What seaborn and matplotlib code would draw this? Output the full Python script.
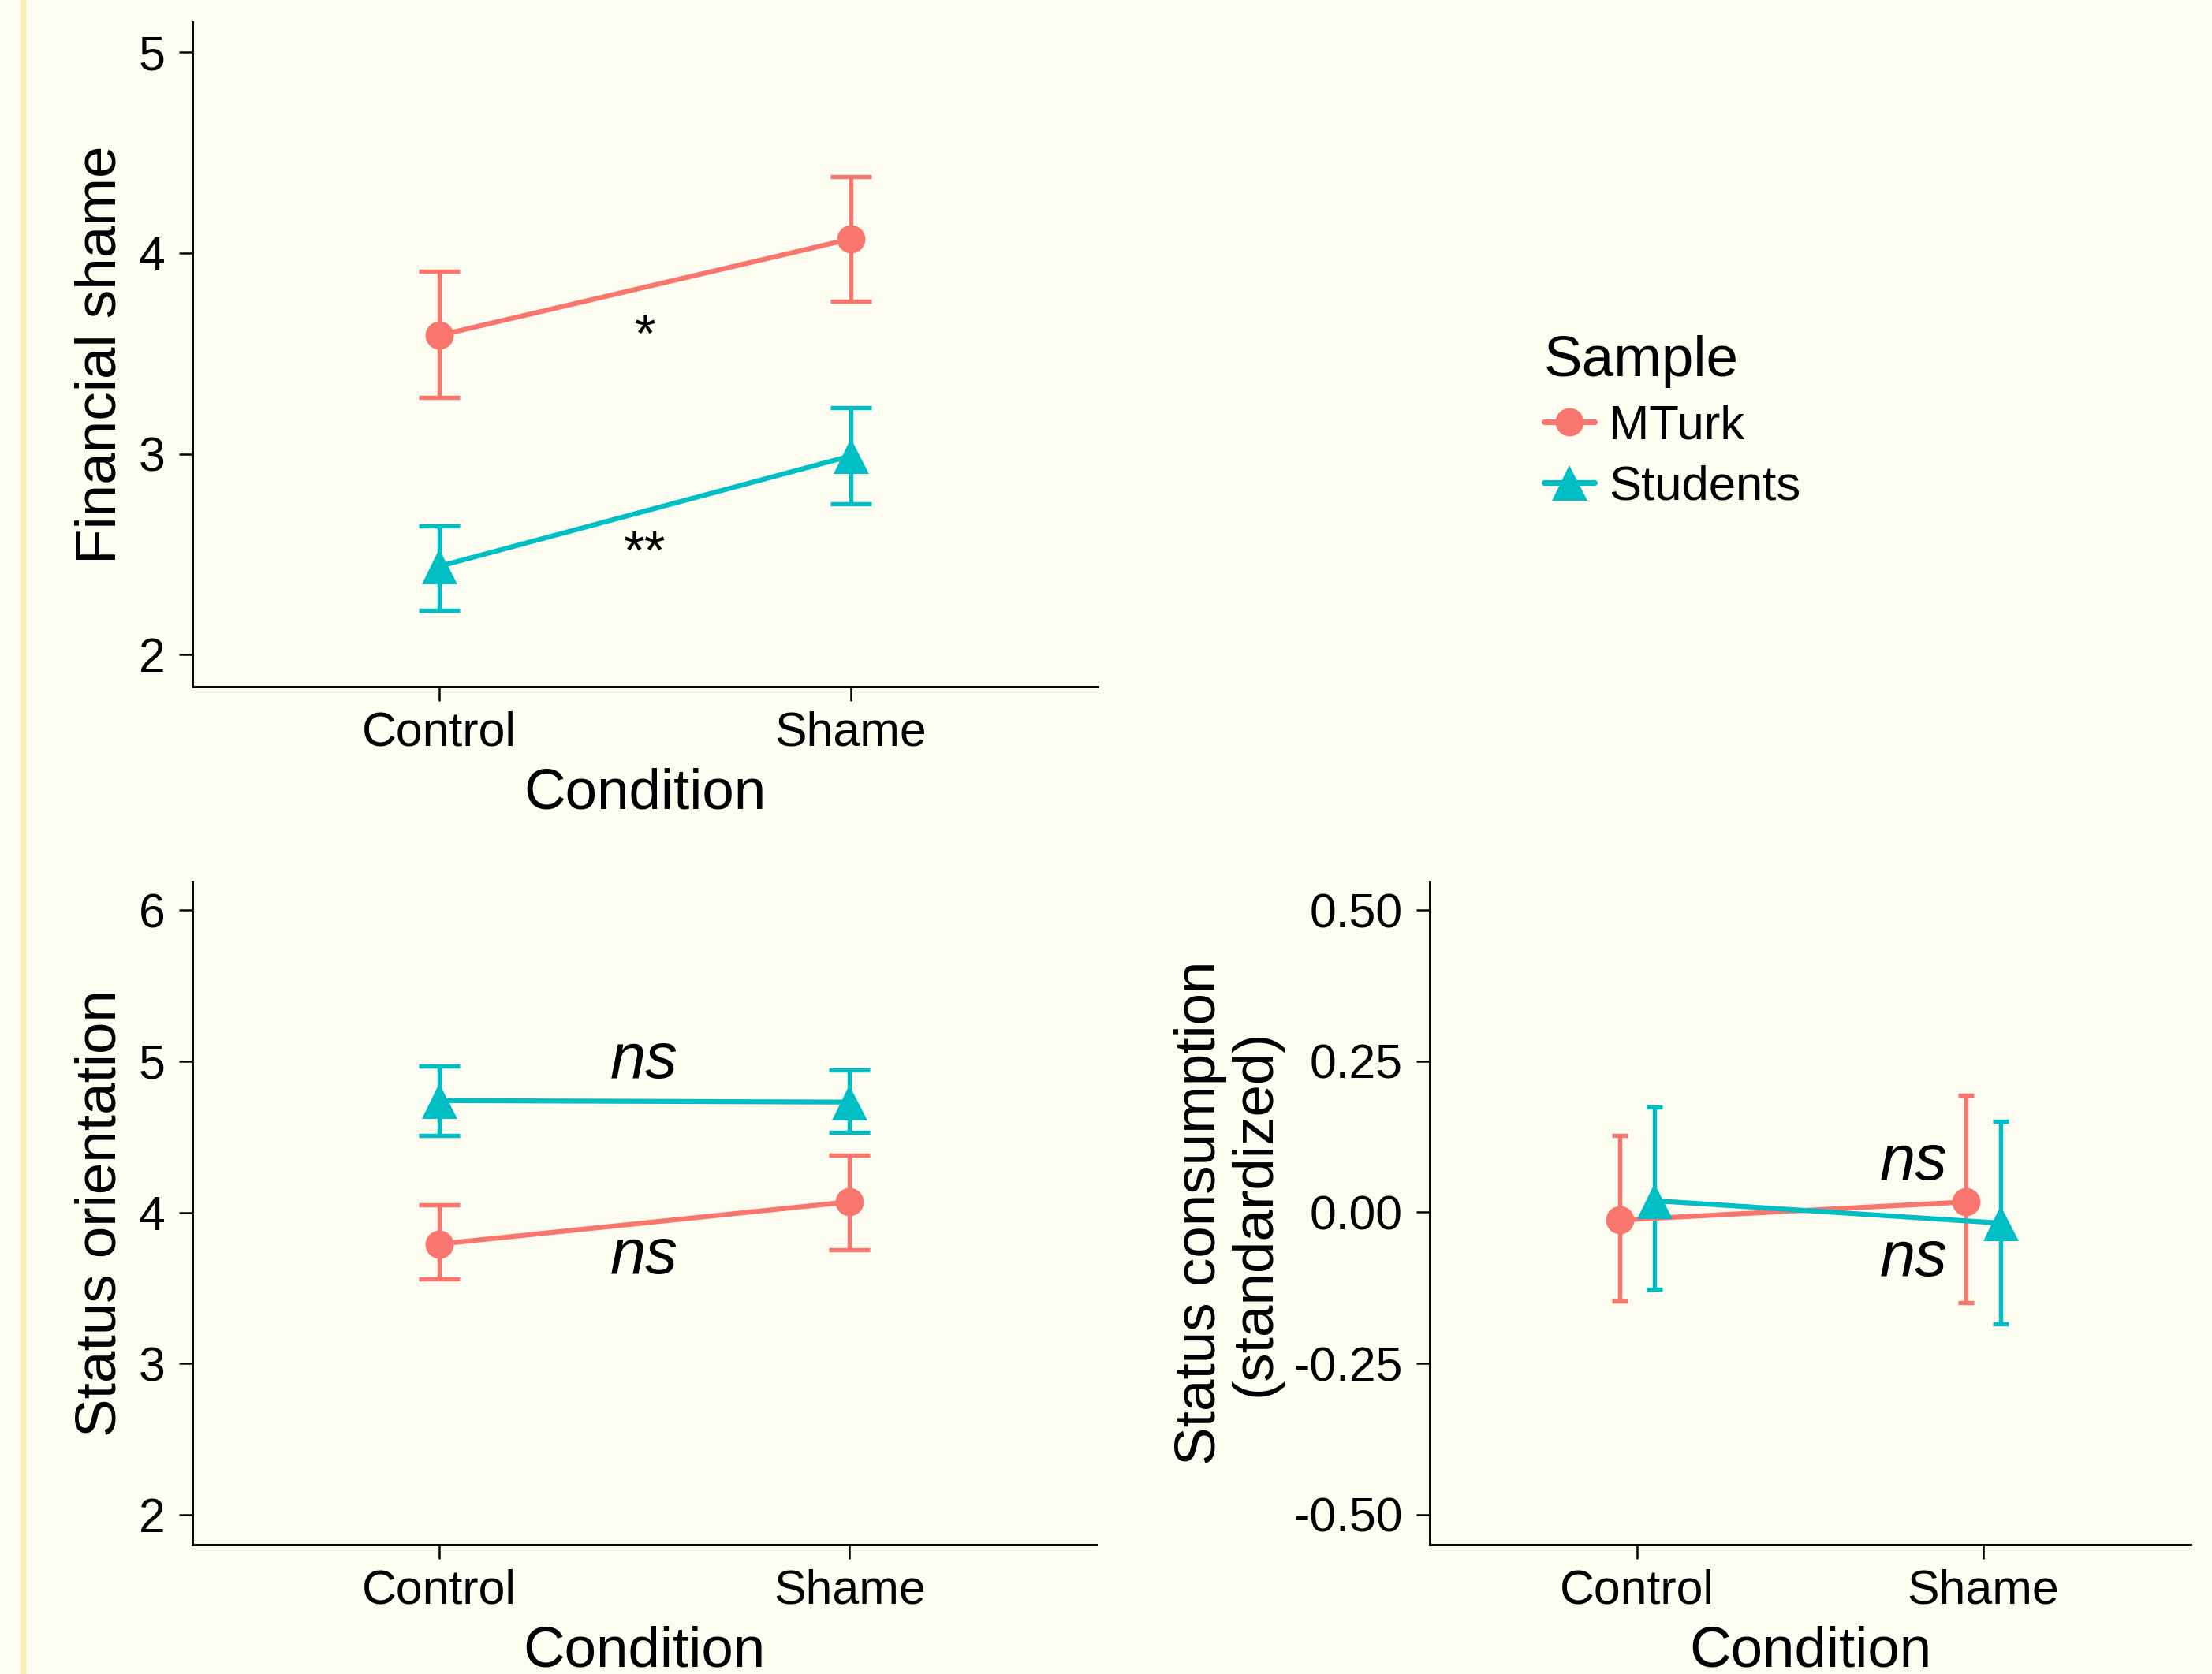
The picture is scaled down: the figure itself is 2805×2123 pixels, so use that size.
import numpy as np
import pandas as pd
import matplotlib.pyplot as plt
import seaborn as sns
from matplotlib.lines import Line2D
from matplotlib.patches import Rectangle


# =========================
# data
# =========================
conditions = ["Control", "Shame"]
samples = ["MTurk", "Students"]

# financial shame
shame_mturk = [3.59, 4.07]
shame_mturk_lo = [3.28, 3.76]
shame_mturk_hi = [3.91, 4.38]
shame_students = [2.44, 2.99]
shame_students_lo = [2.22, 2.75]
shame_students_hi = [2.64, 3.23]

# status orientation
orient_mturk = [3.79, 4.07]
orient_mturk_lo = [3.56, 3.75]
orient_mturk_hi = [4.05, 4.38]
orient_students = [4.74, 4.73]
orient_students_lo = [4.51, 4.53]
orient_students_hi = [4.97, 4.94]

# status consumption (standardized)
cons_mturk = [-0.013, 0.017]
cons_mturk_lo = [-0.147, -0.149]
cons_mturk_hi = [0.127, 0.194]
cons_students = [0.019, -0.018]
cons_students_lo = [-0.127, -0.185]
cons_students_hi = [0.174, 0.150]

COLORS = ["#F8766D", "#00BFC4"]
BG = "#FCFCF1"
W, H = 2805, 2123


sns.set_style("ticks")
plt.rcParams["font.family"] = ["Liberation Sans", "DejaVu Sans"]
plt.rcParams["axes.unicode_minus"] = False
for key in ["text.color", "axes.labelcolor", "xtick.color", "ytick.color"]:
    plt.rcParams[key] = "black"


def make_df(mturk, students):
    return pd.DataFrame({
        "Condition": conditions * 2,
        "Sample": [samples[0]] * 2 + [samples[1]] * 2,
        "value": list(mturk) + list(students),
    })


def panel(fig, rect_px, mturk, students, lows, highs, ylim, yticks, ylabel,
          dodge=False, capsize=6.2, fmt="{:g}"):
    left, top, right, bottom = rect_px
    ax = fig.add_axes([left / W, 1 - bottom / H, (right - left) / W, (bottom - top) / H])
    ax.set_facecolor(BG)

    df = make_df(mturk, students)
    sns.pointplot(data=df, x="Condition", y="value", hue="Sample",
                  order=conditions, hue_order=samples, palette=COLORS,
                  markers=["o", "^"], linestyles="-", dodge=dodge,
                  errorbar=None, legend=False, ax=ax,
                  markersize=8.6, linewidth=1.5, markeredgewidth=0)

    point_lines = list(ax.lines[:2])
    point_lines[1].set_markersize(10.8)
    for ln in point_lines:
        ln.set_zorder(3)

    for ln, lo, hi, col in zip(point_lines, lows, highs, COLORS):
        xs = np.asarray(ln.get_xdata(), dtype=float)
        ys = np.asarray(ln.get_ydata(), dtype=float)
        ax.errorbar(xs, ys, yerr=[ys - np.array(lo), np.array(hi) - ys],
                    fmt="none", ecolor=col, elinewidth=1.3,
                    capsize=capsize, capthick=1.3, zorder=2)

    ax.set_xlim(-0.6, 1.6)
    ax.set_ylim(*ylim)
    ax.set_yticks(yticks)
    ax.set_yticklabels([fmt.format(t) for t in yticks])

    sns.despine(ax=ax)
    for s in ["left", "bottom"]:
        ax.spines[s].set_color("black")
        ax.spines[s].set_linewidth(0.7)
    ax.tick_params(axis="both", direction="out", length=4.2, width=0.6,
                   color="black", labelcolor="black", labelsize=14.6)
    ax.tick_params(axis="y", pad=4.0)
    ax.tick_params(axis="x", pad=3.2)

    ax.set_xlabel("Condition", fontsize=17.5, labelpad=3.5, color="black")
    ax.set_ylabel(ylabel, fontsize=17.5, labelpad=3.5, linespacing=1.05, color="black")
    return ax


fig = plt.figure(figsize=(W / 300, H / 300), dpi=300, facecolor=BG)

# yellow strip on the left edge
fig.patches.append(Rectangle((26 / W, 0), 7 / W, 1, transform=fig.transFigure,
                             facecolor="#F7EFB3", edgecolor="none", zorder=0))

# top: financial shame
ax1 = panel(fig, (244, 28, 1392, 871), shame_mturk, shame_students,
            [shame_mturk_lo, shame_students_lo], [shame_mturk_hi, shame_students_hi],
            (1.84, 5.15), [2, 3, 4, 5], "Financial shame")
ax1.text(0.5, 3.51, "*", ha="center", va="baseline", fontsize=16.5, color="black")
ax1.text(0.5, 2.43, "**", ha="center", va="baseline", fontsize=16.5, color="black")

# bottom left: status orientation
ax2 = panel(fig, (244, 1118, 1390, 1959), orient_mturk, orient_students,
            [orient_mturk_lo, orient_students_lo], [orient_mturk_hi, orient_students_hi],
            (1.80, 6.19), [2, 3, 4, 5, 6], "Status orientation")
ax2.text(0.5, 4.89, "ns", style="italic", ha="center", va="baseline", fontsize=19.5, color="black")
ax2.text(0.5, 3.595, "ns", style="italic", ha="center", va="baseline", fontsize=19.5, color="black")

# bottom right: status consumption
ax3 = panel(fig, (1813, 1118, 2778, 1959), cons_mturk, cons_students,
            [cons_mturk_lo, cons_students_lo], [cons_mturk_hi, cons_students_hi],
            (-0.55, 0.547), [-0.5, -0.25, 0.0, 0.25, 0.5],
            "Status consumption\n(standardized)", dodge=0.1, capsize=2.4,
            fmt="{:.2f}")
ax3.text(0.80, 0.054, "ns", style="italic", ha="center", va="baseline", fontsize=19.5, color="black")
ax3.text(0.80, -0.105, "ns", style="italic", ha="center", va="baseline", fontsize=19.5, color="black")

# legend
handles = [
    Line2D([], [], color=COLORS[0], marker="o", markersize=8.6, markeredgewidth=0, lw=1.7),
    Line2D([], [], color=COLORS[1], marker="^", markersize=10.8, markeredgewidth=0, lw=1.7),
]
leg = fig.legend(handles, samples, title="Sample", loc="upper left",
                 bbox_to_anchor=(1958 / W, 1 - 425 / H), frameon=False,
                 fontsize=14.8, title_fontsize=17.5, handlelength=1.03,
                 handletextpad=0.3, labelspacing=0.33, borderpad=0,
                 borderaxespad=0, alignment="left")
for t in leg.get_texts():
    t.set_color("black")
leg.get_title().set_color("black")

fig.savefig("out.png", dpi=300, facecolor=BG)
